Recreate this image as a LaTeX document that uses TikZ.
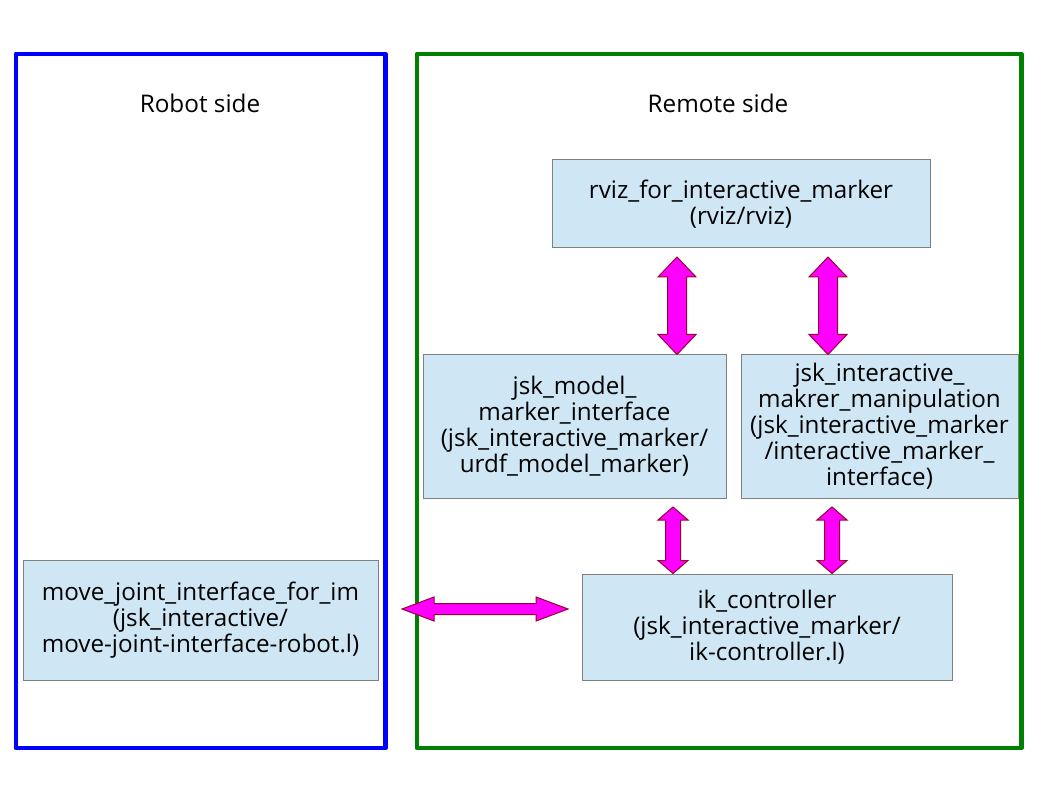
\documentclass[tikz,border=0pt]{standalone}
\usepackage{fontspec}
\setmainfont{Open Sans}
\usetikzlibrary{calc}
\definecolor{boxfill}{HTML}{CFE7F5}
\definecolor{boxline}{HTML}{808080}
\definecolor{arrfill}{HTML}{FF00FF}
\definecolor{arrline}{HTML}{990033}
\definecolor{robotblue}{HTML}{0000FF}
\definecolor{remotegreen}{HTML}{008000}
\tikzset{
  frame/.style={line width=4.5pt, line join=round},
  title/.style={inner sep=0pt, font=\fontsize{24.3}{26}\selectfont},
  procbox/.style={draw=boxline, fill=boxfill, line width=1pt, inner sep=0pt,
    align=center, font=\fontsize{24.2}{26}\selectfont},
  barrow/.style={draw=arrline, fill=arrfill, line width=1pt, line join=miter}
}
\newcommand\dblarrow[5]{%
  \path ($(#1)!#3!(#2)$) coordinate (hA) ($(#2)!#3!(#1)$) coordinate (hB);
  \draw[barrow] (#1)
    -- ($(hA)!#4!90:(#2)$) -- ($(hA)!#5!90:(#2)$)
    -- ($(hB)!#5!-90:(#1)$) -- ($(hB)!#4!-90:(#1)$)
    -- (#2)
    -- ($(hB)!#4!90:(#1)$) -- ($(hB)!#5!90:(#1)$)
    -- ($(hA)!#5!-90:(#2)$) -- ($(hA)!#4!-90:(#2)$) -- cycle;}
\begin{document}
\begin{tikzpicture}[x=1pt, y=-1pt]
\useasboundingbox[fill=white] (0,0) rectangle (1058,794);
% frames
\draw[frame, draw=robotblue] (15.8,53.8) rectangle (385.5,748);
\draw[frame, draw=remotegreen] (416.8,53.8) rectangle (1021.3,748);
\node[title] (robottitle) at (200,103) {Robot side};
\node[title] (remotetitle) at (718,103) {Remote side};
% boxes
\node[procbox, minimum width=378pt, minimum height=88pt] (rviz) at (741,204)
  {rviz\_for\_interactive\_marker\\(rviz/rviz)};
\node[procbox, minimum width=303pt, minimum height=143pt] (model) at (574.5,426.5)
  {jsk\_model\_\\marker\_interface\\(jsk\_interactive\_marker/\\urdf\_model\_marker)};
\node[procbox, minimum width=277pt, minimum height=143pt] (manip) at (879.5,426.5)
  {jsk\_interactive\_\\makrer\_manipulation\\(jsk\_interactive\_marker\\/interactive\_marker\_\\interface)};
\node[procbox, minimum width=370pt, minimum height=106pt] (ik) at (767,627)
  {ik\_controller\\(jsk\_interactive\_marker/\\ik-controller.l)};
\node[procbox, minimum width=355pt, minimum height=120pt] (move) at (200.5,620)
  {move\_joint\_interface\_for\_im\\(jsk\_interactive/\\move-joint-interface-robot.l)};
% arrows
\coordinate (a1t) at (677,257); \coordinate (a1b) at (a1t |- model.north);
\coordinate (a2t) at (828,257); \coordinate (a2b) at (a2t |- manip.north);
\coordinate (a3t) at (673,507); \coordinate (a3b) at (a3t |- ik.north);
\coordinate (a4t) at (832,507); \coordinate (a4b) at (a4t |- ik.north);
\coordinate (a5l) at (402,609); \coordinate (a5r) at (568,609);
\dblarrow{a1t}{a1b}{20pt}{19pt}{9.5pt}
\dblarrow{a2t}{a2b}{20pt}{19pt}{9.5pt}
\dblarrow{a3t}{a3b}{13pt}{15pt}{7.5pt}
\dblarrow{a4t}{a4b}{13pt}{15pt}{7.5pt}
\dblarrow{a5l}{a5r}{32pt}{12pt}{5.5pt}
\end{tikzpicture}
\end{document}
